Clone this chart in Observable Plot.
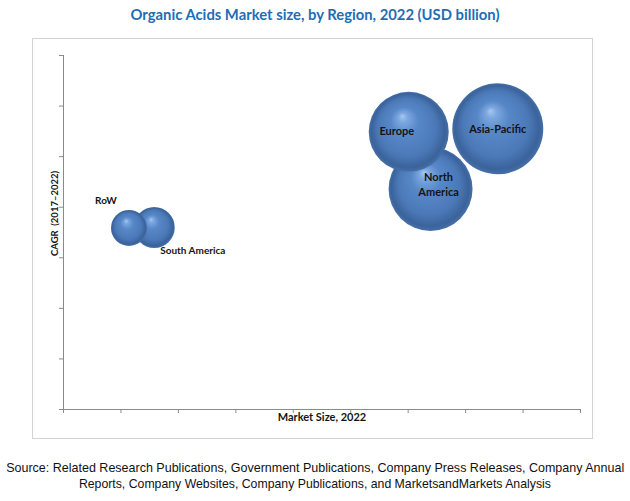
<!DOCTYPE html>
<html><head><meta charset="utf-8">
<script src="https://cdn.jsdelivr.net/npm/d3@7"></script>
<script src="https://cdn.jsdelivr.net/npm/@observablehq/plot@0.6"></script>
<style>
body{margin:0;background:#fff;width:630px;height:501px;position:relative;overflow:hidden;font-family:Lato,sans-serif}
#title{position:absolute;top:5px;left:0;width:630px;text-align:center;color:#1f6db5;font:bold 14.8px Lato,sans-serif}
#frame{position:absolute;left:32px;top:38px;width:561px;height:401px;border:1px solid #d4d4d4;box-sizing:border-box}
#chart{position:absolute;left:0;top:0}
#source{position:absolute;top:460px;left:0;width:630px;color:#111;font:13px/16px "Liberation Sans",Arial,sans-serif}
#source div{width:630px;display:flex;justify-content:center;white-space:nowrap}
#source span{display:inline-block;flex:none;transform-origin:center}
</style></head>
<body>
<div id="title">Organic Acids Market size, by Region, 2022 (USD billion)</div>
<div id="frame"></div>
<div id="chart"></div>
<div id="source"><div><span id="s1">Source: Related Research Publications, Government Publications, Company Press Releases, Company Annual</span></div><div><span id="s2">Reports, Company Websites, Company Publications, and MarketsandMarkets Analysis</span></div></div>
<script>
// Data (drawing order: back to front)
const regions    = ["RoW", "South America", "North America", "Europe", "Asia-Pacific"];
const marketSize = [1.14, 1.58, 6.39, 6.01, 7.56];
const cagr       = [3.59, 3.60, 4.36, 5.49, 5.55];
const bubbleSize = [1.57, 2.03, 8.52, 7.73, 10];
const xTicks = [0,1,2,3,4,5,6,7,8,9];
const yTicks = [0,1,2,3,4,5,6,7];
const xLabel = "Market Size, 2022";
const yLabel = "CAGR  (2017–2022)";

const data = regions.map((r, i) => ({region: r, x: marketSize[i], y: cagr[i], s: bubbleSize[i]}));
const pick = name => data.filter(d => d.region === name);

const labelFont = {fontFamily: "Lato, sans-serif", fontWeight: "bold", fontSize: 11, fill: "#141414"};

const chart = Plot.plot({
  width: 630,
  height: 445,
  marginLeft: 63,
  marginRight: 50,
  marginTop: 55,
  marginBottom: 36,
  x: {domain: [0, 9], axis: null},
  y: {domain: [0, 7], axis: null},
  r: {type: "sqrt", domain: [0, 10], range: [0, 45.5]},
  marks: [
    Plot.ruleY([0], {stroke: "#8a8a8a"}),
    Plot.ruleX([0], {stroke: "#8a8a8a"}),
    Plot.axisX({ticks: xTicks, tickFormat: () => "", tickSize: 4, stroke: "#8a8a8a", label: null}),
    Plot.axisY({ticks: yTicks, tickFormat: () => "", tickSize: 4, stroke: "#8a8a8a", label: null}),
    Plot.dot(data, {x: "x", y: "y", r: "s", fill: "url(#sphere)", stroke: "none"}),
    Plot.text(pick("RoW"), {x: "x", y: "y", text: "region", dx: -23, dy: -27, ...labelFont, fontSize: 10}),
    Plot.text(pick("South America"), {x: "x", y: "y", text: "region", textAnchor: "start", dx: 6, dy: 23, ...labelFont, fontSize: 10}),
    Plot.text(pick("Europe"), {x: "x", y: "y", text: "region", dx: -12, dy: 0, ...labelFont}),
    Plot.text(pick("Asia-Pacific"), {x: "x", y: "y", text: "region", dx: 0, dy: 1, ...labelFont}),
    Plot.text(pick("North America"), {x: "x", y: "y", text: d => d.region.replace(" ", "\n"), dx: 8, dy: -5, lineHeight: 1.3, ...labelFont}),
    Plot.text([xLabel], {frameAnchor: "bottom", dy: 11, fontFamily: "Lato, sans-serif", fontWeight: "bold", fontSize: 11, fill: "#141414"}),
    Plot.text([yLabel], {frameAnchor: "left", textAnchor: "middle", rotate: -90, dx: -9, dy: -19, fontFamily: "Lato, sans-serif", fontWeight: "bold", fontSize: 9.5, fill: "#141414"})
  ]
});

const defs = d3.select(chart).insert("defs", ":first-child");
const g = defs.append("radialGradient").attr("id", "sphere").attr("cx", "0.5").attr("cy", "0.5").attr("r", "0.5").attr("fx", "0.42").attr("fy", "0.3");
[["0%", "#a6c8ef"], ["12%", "#7ba7e0"], ["35%", "#5887c8"], ["72%", "#4b79b8"], ["92%", "#3b639b"], ["100%", "#4670a8"]]
  .forEach(([o, c]) => g.append("stop").attr("offset", o).attr("stop-color", c));

document.getElementById("chart").appendChild(chart);

// fit source lines to reference widths (condensed look)
[["s1", 618], ["s2", 472]].forEach(([id, w]) => {
  const el = document.getElementById(id);
  const k = w / el.getBoundingClientRect().width;
  el.style.transform = `scaleX(${k})`;
});
</script>
</body></html>
